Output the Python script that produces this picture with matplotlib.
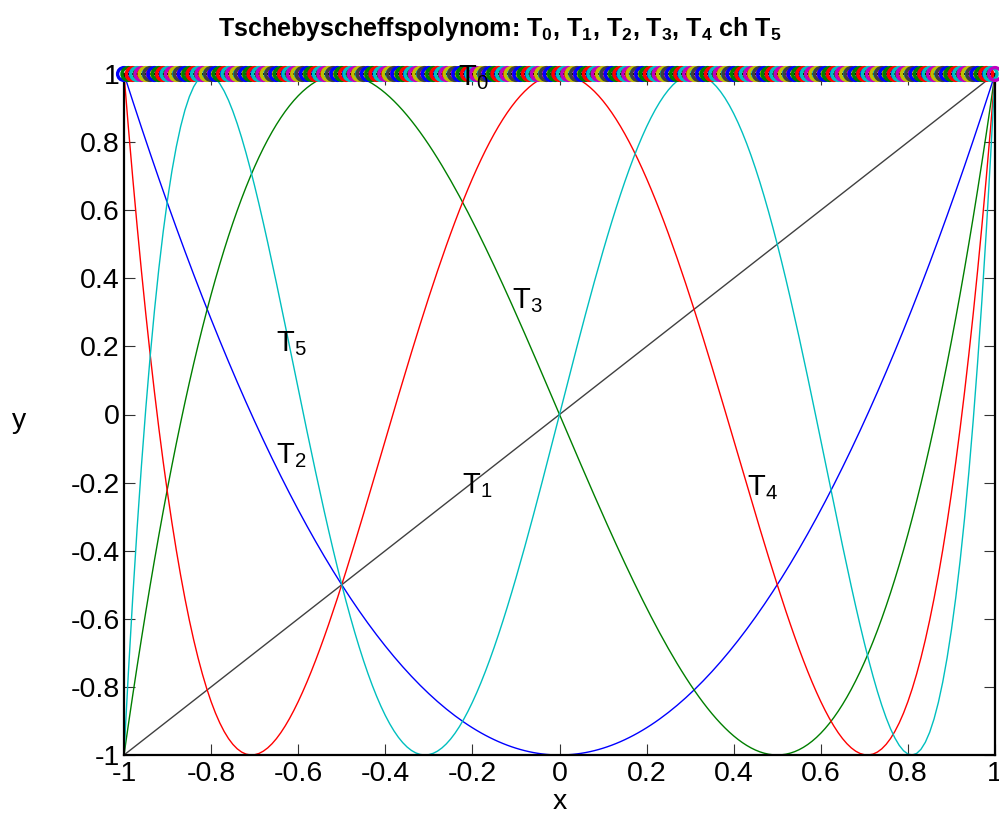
import numpy as np
import matplotlib
matplotlib.use("Agg")
import matplotlib.pyplot as plt

plt.rcParams['font.family'] = ['Liberation Sans', 'DejaVu Sans']
plt.rcParams['mathtext.fontset'] = 'custom'
plt.rcParams['mathtext.rm'] = 'Liberation Sans'
plt.rcParams['mathtext.it'] = 'Liberation Sans'
plt.rcParams['mathtext.bf'] = 'Liberation Sans:bold'
plt.rcParams['axes.unicode_minus'] = False

# ---- data ----
x_start, x_stop, n_points = -1.0, 1.0, 201
# Chebyshev polynomial coefficients (highest power first)
T0_coef = [1]
T1_coef = [1, 0]
T2_coef = [2, 0, -1]
T3_coef = [4, 0, -3, 0]
T4_coef = [8, 0, -8, 0, 1]
T5_coef = [16, 0, -20, 0, 5, 0]
series_names = ["T1", "T2", "T3", "T4", "T5"]
series_coefs = [T1_coef, T2_coef, T3_coef, T4_coef, T5_coef]
series_colors = ["#404040", "#0000ff", "#007f00", "#ff0000", "#00bfbf"]
marker_colors = ["#0000ff", "#007f00", "#ff0000", "#00bfbf", "#bf00bf", "#bfbf00", "#404040"]
label_texts = [r"$\mathrm{T_0}$", r"$\mathrm{T_1}$", r"$\mathrm{T_2}$",
               r"$\mathrm{T_3}$", r"$\mathrm{T_4}$", r"$\mathrm{T_5}$"]
label_x = [-0.233, -0.224, -0.651, -0.109, 0.430, -0.651]
label_y = [1.0, -0.200, -0.110, 0.344, -0.204, 0.219]
xticks = [-1, -0.8, -0.6, -0.4, -0.2, 0, 0.2, 0.4, 0.6, 0.8, 1]
yticks = [-1, -0.8, -0.6, -0.4, -0.2, 0, 0.2, 0.4, 0.6, 0.8, 1]
tick_labels = ["-1", "-0.8", "-0.6", "-0.4", "-0.2", "0", "0.2", "0.4", "0.6", "0.8", "1"]

x = np.linspace(x_start, x_stop, n_points)

fig = plt.figure(figsize=(9.99, 8.26), dpi=100)
ax = fig.add_axes([124/999, 71/826, 871/999, 681/826])

for coef, col in zip(series_coefs, series_colors):
    ax.plot(x, np.polyval(coef, x), color=col, lw=1.0, zorder=2)

y0 = np.polyval(T0_coef, x) * np.ones_like(x)
mcols = [marker_colors[i % len(marker_colors)] for i in range(len(x))]
ax.scatter(x, y0, s=85, facecolors='none', edgecolors=mcols, linewidths=2.4,
           zorder=3, clip_on=False)

ax.set_xlim(-1, 1)
ax.set_ylim(-1, 1)
ax.set_xticks(xticks)
ax.set_yticks(yticks)
ax.set_xticklabels(tick_labels)
ax.set_yticklabels(tick_labels)
ax.tick_params(direction='in', length=8, width=0.8, labelsize=20.5, pad=4,
               top=True, right=True, color='#333333')
ax.tick_params(axis='y', pad=3)
for s in ax.spines.values():
    s.set_linewidth(1.6)
    s.set_color('black')

ax.set_xlabel("x", fontsize=20.5, labelpad=2)
fig.text(12/999, 1 - 421/826, "y", fontsize=20.5, ha='left', va='center')

cap_off = 11 / 340.5
for t, lx, ly in zip(label_texts, label_x, label_y):
    ax.text(lx, ly - cap_off, t, fontsize=21, ha='left', va='baseline', zorder=4)

fig.text(500/999, 1 - 36/826,
         r"Tschebyscheffspolynom: $\mathbf{T_0}$, $\mathbf{T_1}$, $\mathbf{T_2}$, $\mathbf{T_3}$, $\mathbf{T_4}$ ch $\mathbf{T_5}$",
         fontsize=18, fontweight='bold', ha='center', va='baseline')

fig.savefig("out.png", dpi=100)
